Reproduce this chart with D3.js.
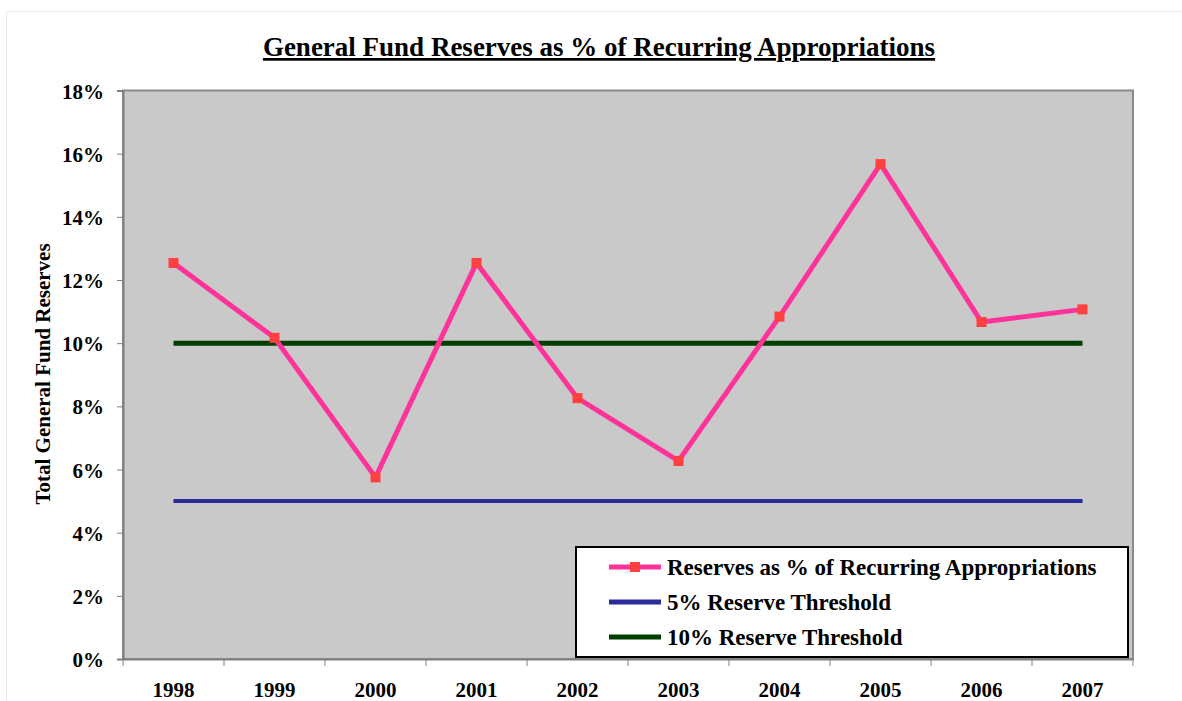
<!DOCTYPE html>
<html>
<head>
<meta charset="utf-8">
<script src="https://cdn.jsdelivr.net/npm/d3@7"></script>
<style>
  html, body { margin: 0; padding: 0; background: #fff; }
  svg { display: block; }
  text { font-family: "Liberation Serif", "Times New Roman", serif; font-weight: bold; fill: #000; }
</style>
</head>
<body>
<svg id="chart" width="1182" height="701"></svg>
<script>
const years = ["1998","1999","2000","2001","2002","2003","2004","2005","2006","2007"];
const reserves = [0.1254, 0.1017, 0.0575, 0.1254, 0.0826, 0.0627, 0.1084, 0.1567, 0.1067, 0.1107];
const threshold5 = [0.05, 0.05, 0.05, 0.05, 0.05, 0.05, 0.05, 0.05, 0.05, 0.05];
const threshold10 = [0.10, 0.10, 0.10, 0.10, 0.10, 0.10, 0.10, 0.10, 0.10, 0.10];
const yTicks = [0, 0.02, 0.04, 0.06, 0.08, 0.10, 0.12, 0.14, 0.16, 0.18];
const seriesNames = ["Reserves as % of Recurring Appropriations", "5% Reserve Threshold", "10% Reserve Threshold"];
const titleText = "General Fund Reserves as % of Recurring Appropriations";
const yTitle = "Total General Fund Reserves";

const svg = d3.select("#chart");
const plot = { left: 123, right: 1133, top: 90.5, bottom: 659 };

// faint outer frame
svg.append("rect").attr("x", 6.5).attr("y", 11.5).attr("width", 1182).attr("height", 700)
  .attr("fill", "none").attr("stroke", "#ececec").attr("stroke-width", 1);

const x = d3.scaleBand().domain(years).range([plot.left, plot.right]).padding(0);
const y = d3.scaleLinear().domain([0, 0.18]).range([plot.bottom, plot.top]);
const cx = d => x(d) + x.bandwidth() / 2;

// plot background
svg.append("rect")
  .attr("x", plot.left).attr("y", plot.top)
  .attr("width", plot.right - plot.left).attr("height", plot.bottom - plot.top)
  .attr("fill", "#c9c9c9").attr("stroke", "#8a8a8a").attr("stroke-width", 2);

// title
svg.append("text").attr("x", 599).attr("y", 56).attr("text-anchor", "middle")
  .attr("font-size", 27).attr("text-decoration", "underline").text(titleText);

// y axis
const yAxis = d3.axisLeft(y).tickValues(yTicks).tickFormat(d3.format(".0%")).tickSize(6).tickPadding(13);
const gy = svg.append("g").attr("transform", `translate(${plot.left},0)`).call(yAxis);
gy.select(".domain").attr("stroke", "#808080").attr("stroke-width", 2);
gy.selectAll(".tick line").attr("stroke", "#808080");
gy.selectAll(".tick text").attr("font-size", 21).attr("font-family", "Liberation Serif, serif").attr("font-weight", "bold").attr("dy", "0.36em");

// x axis
const xAxis = d3.axisBottom(x).tickSize(0).tickPadding(23);
const gx = svg.append("g").attr("transform", `translate(0,${plot.bottom})`).call(xAxis);
gx.select(".domain").attr("stroke", "#808080").attr("stroke-width", 2);
gx.selectAll(".tick text").attr("font-size", 21).attr("font-family", "Liberation Serif, serif").attr("font-weight", "bold");
// category boundary ticks
const bounds = years.map(d => x(d)).concat([x(years[years.length - 1]) + x.bandwidth()]);
gx.selectAll(".bound").data(bounds).enter().append("line")
  .attr("x1", d => d).attr("x2", d => d).attr("y1", 0).attr("y2", 7)
  .attr("stroke", "#808080").attr("stroke-width", 1);

// y title
svg.append("text").attr("transform", "translate(50,374) rotate(-90)")
  .attr("text-anchor", "middle").attr("font-size", 21).text(yTitle);

const line = d3.line().x((d, i) => cx(years[i])).y(d => y(d));

svg.append("path").datum(threshold5).attr("d", line)
  .attr("fill", "none").attr("stroke", "#2b2b9c").attr("stroke-width", 4);
svg.append("path").datum(threshold10).attr("d", line)
  .attr("fill", "none").attr("stroke", "#003f00").attr("stroke-width", 5);
svg.append("path").datum(reserves).attr("d", line)
  .attr("fill", "none").attr("stroke", "#ff3399").attr("stroke-width", 5).attr("stroke-linejoin", "miter");
svg.selectAll(".mk").data(reserves).enter().append("rect")
  .attr("x", (d, i) => cx(years[i]) - 5).attr("y", d => y(d) - 5)
  .attr("width", 10).attr("height", 10).attr("fill", "#ff4040");

// legend
const lg = svg.append("g");
lg.append("rect").attr("x", 576).attr("y", 547).attr("width", 552).attr("height", 110)
  .attr("fill", "#fff").attr("stroke", "#000").attr("stroke-width", 2);
const legendColors = ["#ff3399", "#2b2b9c", "#003f00"];
const rowsY = [567, 602, 637];
seriesNames.forEach((name, i) => {
  lg.append("line").attr("x1", 609).attr("x2", 661).attr("y1", rowsY[i]).attr("y2", rowsY[i])
    .attr("stroke", legendColors[i]).attr("stroke-width", 5);
  if (i === 0) {
    lg.append("rect").attr("x", 630).attr("y", rowsY[i] - 5).attr("width", 10).attr("height", 10).attr("fill", "#ff4040");
  }
  lg.append("text").attr("x", 667).attr("y", rowsY[i] + 8).attr("font-size", 23).text(name);
});
</script>
</body>
</html>
